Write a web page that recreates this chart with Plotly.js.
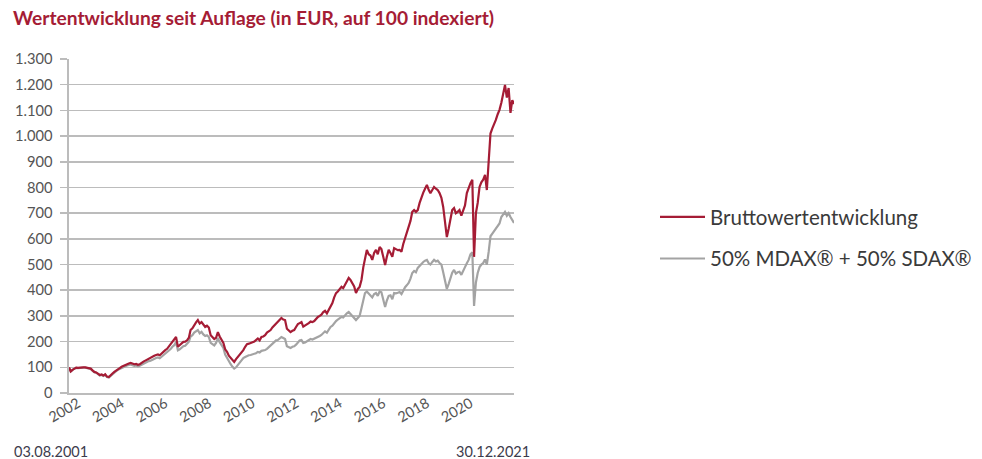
<!DOCTYPE html>
<html>
<head>
<meta charset="utf-8">
<script src="https://cdn.plot.ly/plotly-3.0.1.min.js"></script>
<style>html,body{margin:0;padding:0;background:#fff;}#chart{width:982px;height:459px;}</style>
</head>
<body>
<div id="chart"></div>
<script>
const chartTitle = 'Wertentwicklung seit Auflage (in EUR, auf 100 indexiert)';
const seriesNames = ['Bruttowertentwicklung', '50% MDAX® + 50% SDAX®'];
const startLabel = '03.08.2001';
const endLabel = '30.12.2021';

const dates = [
'2001-08-03','2001-09','2001-10','2001-11','2001-12',
'2002-01','2002-02','2002-03','2002-04','2002-05','2002-06','2002-07','2002-08','2002-09','2002-10','2002-11','2002-12',
'2003-01','2003-02','2003-03','2003-04','2003-05','2003-06','2003-07','2003-08','2003-09','2003-10','2003-11','2003-12',
'2004-01','2004-02','2004-03','2004-04','2004-05','2004-06','2004-07','2004-08','2004-09','2004-10','2004-11','2004-12',
'2005-01','2005-02','2005-03','2005-04','2005-05','2005-06','2005-07','2005-08','2005-09','2005-10','2005-11','2005-12',
'2006-01','2006-02','2006-03','2006-04','2006-05','2006-06','2006-07','2006-08','2006-09','2006-10','2006-11','2006-12',
'2007-01','2007-02','2007-03','2007-04','2007-05','2007-06','2007-07','2007-08','2007-09','2007-10','2007-11','2007-12',
'2008-01','2008-02','2008-03','2008-04','2008-05','2008-06','2008-07','2008-08','2008-09','2008-10','2008-11','2008-12',
'2009-01','2009-02','2009-03','2009-04','2009-05','2009-06','2009-07','2009-08','2009-09','2009-10','2009-11','2009-12',
'2010-01','2010-02','2010-03','2010-04','2010-05','2010-06','2010-07','2010-08','2010-09','2010-10','2010-11','2010-12',
'2011-01','2011-02','2011-03','2011-04','2011-05','2011-06','2011-07','2011-08','2011-09','2011-10','2011-11','2011-12',
'2012-01','2012-02','2012-03','2012-04','2012-05','2012-06','2012-07','2012-08','2012-09','2012-10','2012-11','2012-12',
'2013-01','2013-02','2013-03','2013-04','2013-05','2013-06','2013-07','2013-08','2013-09','2013-10','2013-11','2013-12',
'2014-01','2014-02','2014-03','2014-04','2014-05','2014-06','2014-07','2014-08','2014-09','2014-10','2014-11','2014-12',
'2015-01','2015-02','2015-03','2015-04','2015-05','2015-06','2015-07','2015-08','2015-09','2015-10','2015-11','2015-12',
'2016-01','2016-02','2016-03','2016-04','2016-05','2016-06','2016-07','2016-08','2016-09','2016-10','2016-11','2016-12',
'2017-01','2017-02','2017-03','2017-04','2017-05','2017-06','2017-07','2017-08','2017-09','2017-10','2017-11','2017-12',
'2018-01','2018-02','2018-03','2018-04','2018-05','2018-06','2018-07','2018-08','2018-09','2018-10','2018-11','2018-12',
'2019-01','2019-02','2019-03','2019-04','2019-05','2019-06','2019-07','2019-08','2019-09','2019-10','2019-11','2019-12',
'2020-01','2020-02','2020-03','2020-04','2020-05','2020-06','2020-07','2020-08','2020-09','2020-10','2020-11','2020-12',
'2021-01','2021-02','2021-03','2021-04','2021-05','2021-06','2021-07','2021-08','2021-09','2021-10','2021-11','2021-12',
'2021-12-30'
];

const fundValues = [
100, 84, 90, 96, 99,
98, 99, 101, 100, 100, 99, 97, 95, 88, 82, 80, 76,
70, 72, 68, 73, 64, 62, 70, 76, 82, 88, 93, 97,
102, 106, 108, 112, 115, 117, 114, 112, 113, 110, 112, 118,
122, 126, 130, 134, 136, 140, 145, 148, 150, 147, 155, 162,
167, 172, 180, 190, 200, 206, 218, 180, 186, 192, 199, 200,
205, 215, 245, 252, 265, 275, 284, 270, 276, 265, 257, 262,
255, 225, 218, 210, 215, 237, 220, 206, 195, 170, 160, 145,
136, 125, 121, 132, 140, 150, 158, 167, 180, 190, 192, 195,
198, 200, 206, 212, 205, 218, 220, 225, 235, 240, 245, 255,
262, 272, 275, 285, 292, 286, 284, 250, 245, 237, 242, 245,
257, 268, 272, 276, 258, 262, 268, 272, 278, 276, 280, 288,
296, 300, 305, 315, 320, 310, 323, 335, 350, 372, 389, 395,
405, 413, 408, 420, 435, 448, 440, 428, 415, 389, 405, 413,
440, 490, 529, 557, 540, 535, 518, 545, 557, 540, 568, 560,
530, 498, 530, 557, 545, 530, 564, 560, 556, 557, 550, 580,
603, 623, 646, 670, 705, 712, 705, 712, 740, 763, 780, 795,
810, 790, 778, 790, 802, 795, 790, 778, 760, 724, 660, 607,
640, 680, 712, 720, 700, 705, 712, 690, 712, 730, 778, 800,
817, 830, 530, 700, 740, 802, 820, 830, 849, 790, 900, 1010,
1030, 1045, 1063, 1085, 1102, 1130, 1165, 1199, 1150, 1187, 1090, 1140,
1125
];

const benchmarkValues = [
100, 84, 90, 95, 98,
97, 98, 100, 99, 99, 98, 96, 94, 87, 81, 79, 75,
68, 70, 66, 71, 62, 60, 67, 73, 79, 85, 90, 94,
98, 101, 103, 107, 109, 111, 108, 106, 107, 104, 106, 110,
114, 118, 121, 124, 126, 130, 134, 136, 138, 135, 141, 147,
152, 156, 163, 171, 180, 186, 198, 166, 170, 176, 182, 184,
192, 200, 220, 225, 235, 240, 245, 232, 238, 228, 222, 225,
218, 195, 190, 185, 195, 214, 198, 188, 175, 150, 136, 122,
112, 102, 95, 100, 109, 118, 128, 136, 140, 145, 147, 148,
150, 152, 155, 160, 158, 164, 165, 167, 172, 178, 184, 190,
198, 205, 206, 212, 218, 214, 210, 182, 179, 175, 180, 182,
188, 199, 204, 206, 195, 197, 202, 206, 210, 208, 211, 215,
218, 222, 226, 232, 240, 235, 245, 257, 262, 272, 280, 286,
292, 296, 294, 304, 310, 315, 308, 300, 295, 284, 292, 300,
330, 362, 389, 395, 388, 380, 372, 385, 389, 378, 395, 392,
365, 335, 360, 378, 380, 365, 389, 388, 390, 393, 385, 402,
412, 420, 428, 445, 467, 475, 470, 487, 495, 505, 510, 515,
518, 505, 500, 510, 518, 512, 515, 506, 500, 470, 440, 405,
425, 450, 468, 479, 465, 470, 472, 460, 479, 490, 505, 518,
540, 548, 339, 430, 467, 490, 500, 506, 520, 500, 550, 610,
620, 630, 640, 646, 660, 685, 695, 705, 690, 700, 685, 670,
662
];

const xTickVals = ['2002-01-01','2004-01-01','2006-01-01','2008-01-01','2010-01-01','2012-01-01','2014-01-01','2016-01-01','2018-01-01','2020-01-01'];
const xTickText = ['2002','2004','2006','2008','2010','2012','2014','2016','2018','2020'];
const yTickVals = [0,100,200,300,400,500,600,700,800,900,1000,1100,1200,1300];
const yTickText = ['0','100','200','300','400','500','600','700','800','900','1.000','1.100','1.200','1.300'];

const RED = '#a51c35';
const GREY = '#a3a3a3';
const FONT = 'Lato, "Open Sans", sans-serif';

const traces = [
  {x: dates, y: benchmarkValues, type: 'scatter', mode: 'lines', name: seriesNames[1],
   legendgroup: 'b', legendrank: 2, line: {color: GREY, width: 2.2}},
  {x: dates, y: fundValues, type: 'scatter', mode: 'lines', name: seriesNames[0],
   legendgroup: 'a', legendrank: 1, line: {color: RED, width: 2.2}}
];

const layout = {
  width: 982, height: 459,
  margin: {l: 69, r: 468, t: 59, b: 66},
  paper_bgcolor: '#fff', plot_bgcolor: '#fff',
  font: {family: FONT, color: '#555'},
  title: {text: '<b>' + chartTitle + '</b>', x: 13/982, xanchor: 'left', xref: 'container',
          y: 1 - 18/459, yanchor: 'middle', yref: 'container',
          font: {family: FONT, size: 19.2, color: '#a51c35'}},
  xaxis: {type: 'date', range: ['2001-08-03', '2021-12-30'],
          tickvals: xTickVals, ticktext: xTickText, tickangle: -30,
          tickfont: {size: 14.5, color: '#555'}, showgrid: false, zeroline: false,
          showline: true, linecolor: '#bcbcbc', linewidth: 1.6, ticks: '', ticklabelstandoff: -5},
  yaxis: {range: [0, 1300], tickvals: yTickVals, ticktext: yTickText,
          tickfont: {size: 14.7, color: '#555'}, showgrid: true, gridcolor: '#bcbcbc', gridwidth: 1.6,
          zeroline: false, showline: true, linecolor: '#bcbcbc', linewidth: 1.6,
          ticks: 'outside', ticklen: 7, tickcolor: '#bcbcbc', tickwidth: 1.6, ticklabelstandoff: 5},
  showlegend: true,
  legend: {traceorder: 'grouped', tracegroupgap: 12, itemwidth: 45, xref: 'container', yref: 'container',
           x: 655/982, xanchor: 'left', y: 1 - 197/459, yanchor: 'top',
           font: {family: FONT, size: 20.5, color: '#3a3a3a'}, bgcolor: 'rgba(0,0,0,0)'},
  annotations: [
    {text: startLabel, xref: 'paper', yref: 'paper', x: (12-69)/445, y: -59/334,
     xanchor: 'left', yanchor: 'middle', showarrow: false, font: {family: FONT, size: 14.5, color: '#3c3c4c'}},
    {text: endLabel, xref: 'paper', yref: 'paper', x: (532-69)/445, y: -59/334,
     xanchor: 'right', yanchor: 'middle', showarrow: false, font: {family: FONT, size: 14.5, color: '#3c3c4c'}}
  ]
};

Plotly.newPlot('chart', traces, layout, {displayModeBar: false, staticPlot: true});
</script>
</body>
</html>
